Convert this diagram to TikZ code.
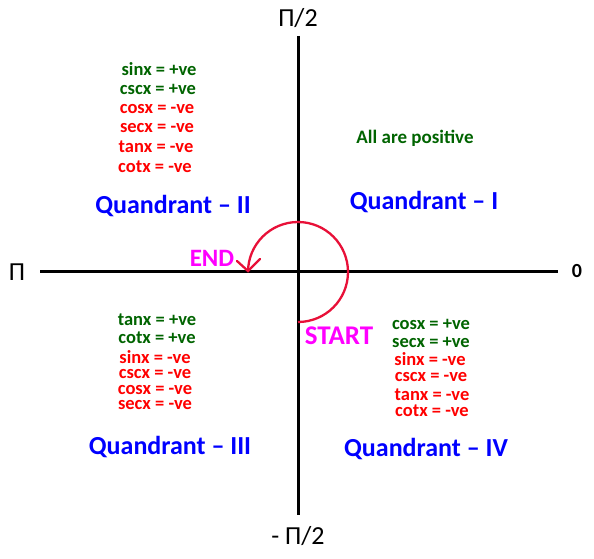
\documentclass[tikz,border=0pt]{standalone}
\usepackage{fontspec}
\setmainfont{Carlito}
\definecolor{dgreen}{RGB}{0,100,0}
\definecolor{qblue}{RGB}{0,0,255}
\definecolor{mag}{RGB}{255,0,255}
\definecolor{arcred}{RGB}{232,16,56}
\tikzset{
  axis/.style={line width=3pt, black},
  turn/.style={arcred, line width=2.3pt},
  lst/.style={font=\bfseries\fontsize{18.5}{20}\selectfont, inner sep=0pt},
  posv/.style={lst, text=dgreen},
  negv/.style={lst, text=red},
  quad/.style={font=\bfseries\fontsize{26}{28}\selectfont, text=qblue, inner sep=0pt},
  tag/.style={font=\bfseries\fontsize{25}{27}\selectfont, text=mag, inner sep=0pt},
  axlab/.style={font=\fontsize{26}{28}\selectfont, inner sep=0pt},
}
\begin{document}
\begin{tikzpicture}[x=1pt,y=-1pt]
\useasboundingbox[fill=white] (0,0) rectangle (594,559);
% axes
\coordinate (L) at (40,271);
\coordinate (R) at (558,271);
\coordinate (T) at (298,36);
\coordinate (B) at (298,515);
\coordinate (O) at (298,271);
\draw[axis] (L) -- (R);
\draw[axis] (T) -- (B);
% axis labels
\node[axlab] (pi) at (17,272) {Π};
\node[axlab, font=\bfseries\fontsize{20}{22}\selectfont] (zero) at (577,271) {0};
\node[axlab] (pihalf) at (298,18) {Π/2};
\node[axlab] (mpihalf) at (298,536) {- Π/2};
% arc with arrowhead
\coordinate (S) at (298,322);
\coordinate (tip) at (248,271);
\coordinate (barbL) at (237,261);
\coordinate (barbR) at (260,259);
\draw[turn] (S) arc[start angle=90, end angle=-180, radius=50];
\draw[turn, line cap=round, line join=miter] (barbL) -- (tip) -- (barbR);
\node[tag] (end) at (212,258) {END};
\node[tag, font=\bfseries\fontsize{27}{29}\selectfont] (start) at (339,336) {START};
% quadrant names
\node[quad] (q1) at (424,202) {Quandrant – I};
\node[quad] (q2) at (173,206) {Quandrant – II};
\node[quad] (q3) at (170,447) {Quandrant – III};
\node[quad] (q4) at (426,449) {Quandrant – IV};
% Q1
\node[posv, font=\bfseries\fontsize{19}{21}\selectfont] (allpos) at (415,138) {All are positive};
% Q2
\node[posv] (q2a) at (159,69) {sinx = +ve};
\node[posv] (q2b) at (158,89) {cscx = +ve};
\node[negv] (q2c) at (157,109) {cosx = -ve};
\node[negv] (q2d) at (157,128) {secx = -ve};
\node[negv] (q2e) at (156,147) {tanx = -ve};
\node[negv] (q2f) at (155,167) {cotx = -ve};
% Q3
\node[posv] (q3a) at (157,320) {tanx = +ve};
\node[posv] (q3b) at (157,338) {cotx = +ve};
\node[negv] (q3c) at (155,357) {sinx = -ve};
\node[negv] (q3d) at (155,374) {cscx = -ve};
\node[negv] (q3e) at (155,390) {cosx = -ve};
\node[negv] (q3f) at (155,405) {secx = -ve};
% Q4
\node[posv] (q4a) at (431,324) {cosx = +ve};
\node[posv] (q4b) at (431,342) {secx = +ve};
\node[negv] (q4c) at (430,359) {sinx = -ve};
\node[negv] (q4d) at (431,377) {cscx = -ve};
\node[negv] (q4e) at (432,395) {tanx = -ve};
\node[negv] (q4f) at (432,411) {cotx = -ve};
\end{tikzpicture}
\end{document}
